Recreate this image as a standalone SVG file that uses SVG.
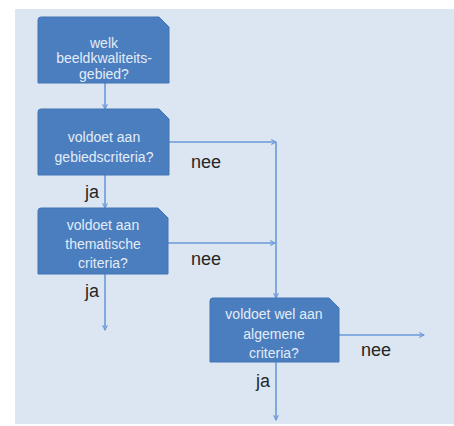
<svg xmlns="http://www.w3.org/2000/svg" width="454" height="426" viewBox="0 0 454 426">
<defs>
<style>
.box{fill:#4a7ebf;stroke:#4275b5;stroke-width:1}
.bt{font-family:"Liberation Sans",Arial,sans-serif;font-size:14px;fill:#e4ecf7;text-anchor:middle}
.lbl{font-family:"Liberation Sans",Arial,sans-serif;font-size:18px;fill:#262626}
.con{fill:none;stroke:#6b9ad8;stroke-width:1.6}
</style>
<marker id="ah" viewBox="0 0 10 10" refX="9" refY="5" markerWidth="6" markerHeight="6" orient="auto" markerUnits="userSpaceOnUse">
<path d="M1,1 L9,5 L1,9" fill="none" stroke="#6b9ad8" stroke-width="1.8"/>
</marker>
</defs>
<rect x="0" y="0" width="454" height="426" fill="#ffffff"/>
<rect x="15" y="9" width="439" height="415" fill="#dce6f2"/>
<g id="connectors">
<line class="con" x1="105" y1="83" x2="105" y2="109" marker-end="url(#ah)"/>
<line class="con" x1="105" y1="175" x2="105" y2="208" marker-end="url(#ah)"/>
<line class="con" x1="105" y1="274" x2="105" y2="330" marker-end="url(#ah)"/>
<line class="con" x1="169" y1="142" x2="276" y2="142" marker-end="url(#ah)"/>
<line class="con" x1="168" y1="243" x2="275" y2="243" marker-end="url(#ah)"/>
<line class="con" x1="276" y1="142" x2="276" y2="298" marker-end="url(#ah)"/>
<line class="con" x1="339" y1="335" x2="424" y2="335" marker-end="url(#ah)"/>
<line class="con" x1="276" y1="362" x2="276" y2="420" marker-end="url(#ah)"/>
<text class="lbl" x="85" y="198">ja</text>
<text class="lbl" x="85" y="297">ja</text>
<text class="lbl" x="256" y="387">ja</text>
<text class="lbl" x="191" y="168">nee</text>
<text class="lbl" x="191" y="265">nee</text>
<text class="lbl" x="361" y="356">nee</text>
</g>
<g id="node1">
<path class="box" d="M41,17 L159,17 L169,27 L169,83 L38,83 L38,20 Q38,17 41,17 Z"/>
<text class="bt" x="104" y="48">welk</text>
<text class="bt" x="104" y="63">beeldkwaliteits-</text>
<text class="bt" x="104" y="79">gebied?</text>
</g>
<g id="node2">
<path class="box" d="M41,109 L159,109 L169,119 L169,175 L38,175 L38,112 Q38,109 41,109 Z"/>
<text class="bt" x="104" y="142">voldoet aan</text>
<text class="bt" x="104" y="162">gebiedscriteria?</text>
</g>
<g id="node3">
<path class="box" d="M41,208 L158,208 L168,218 L168,274 L38,274 L38,211 Q38,208 41,208 Z"/>
<text class="bt" x="103" y="230">voldoet aan</text>
<text class="bt" x="103" y="249">thematische</text>
<text class="bt" x="103" y="268">criteria?</text>
</g>
<g id="node4">
<path class="box" d="M213,298 L329,298 L339,308 L339,362 L210,362 L210,301 Q210,298 213,298 Z"/>
<text class="bt" x="274" y="319">voldoet wel aan</text>
<text class="bt" x="274" y="339">algemene</text>
<text class="bt" x="274" y="358">criteria?</text>
</g>
</svg>
